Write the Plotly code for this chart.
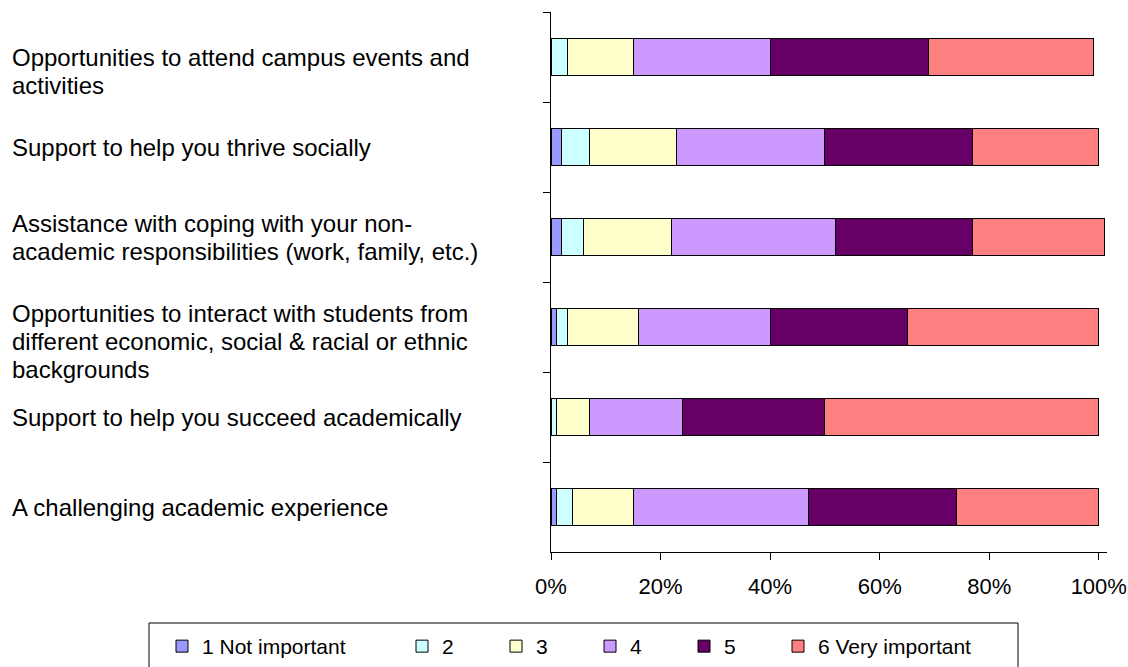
import plotly.graph_objects as go

categories = [
    "Opportunities to attend campus events and<br>activities",
    "Support to help you thrive socially",
    "Assistance with coping with your non-<br>academic responsibilities (work, family, etc.)",
    "Opportunities to interact with students from<br>different economic, social & racial or ethnic<br>backgrounds",
    "Support to help you succeed academically",
    "A challenging academic experience",
]
cat_keys = ["c1", "c2", "c3", "c4", "c5", "c6"]

series_names = ["1 Not important", "2", "3", "4", "5", "6 Very important"]
v1 = [0, 2, 2, 1, 0, 1]
v2 = [3, 5, 4, 2, 1, 3]
v3 = [12, 16, 16, 13, 6, 11]
v4 = [25, 27, 30, 24, 17, 32]
v5 = [29, 27, 25, 25, 26, 27]
v6 = [30, 23, 24, 35, 50, 26]
series_values = [v1, v2, v3, v4, v5, v6]

tick_vals = [0, 20, 40, 60, 80, 100]
tick_text = ["0%", "20%", "40%", "60%", "80%", "100%"]

colors = ["#9999FF", "#CCFFFF", "#FFFFCC", "#CC99FF", "#660066", "#FF8080"]
legend_widths = [195, 49, 49, 49, 49, 150]
label_shifts = [-14, 0, 0, -14, 0, 0]
LINE_H = 28

FONT = "Liberation Sans, Arial, sans-serif"

fig = go.Figure()
for name, vals, col, lw in zip(series_names, series_values, colors, legend_widths):
    fig.add_trace(go.Bar(
        y=cat_keys, x=vals, name=name, orientation="h",
        marker=dict(color=col, line=dict(color="#000000", width=1)),
        legendwidth=lw,
        hoverinfo="x+name",
    ))

W, H = 1128, 667
l, r, t, b = 551, 21, 12, 115
plot_w = W - l - r
plot_h = H - t - b


def px_x(px):
    return (px - l) / plot_w


def px_y(py):
    return (H - b - py) / plot_h


annotations = []
for key, lab, ys in zip(cat_keys, categories, label_shifts):
    lines = lab.split("<br>")
    n = len(lines)
    for i, line in enumerate(lines):
        annotations.append(dict(
            xref="paper", yref="y", x=px_x(10), y=key,
            text=line, showarrow=False, xanchor="left", yanchor="middle",
            align="left", yshift=ys - (i - (n - 1) / 2) * LINE_H,
            font=dict(family=FONT, size=24, color="#000000"),
        ))

fig.update_layout(
    width=W, height=H,
    margin=dict(l=l, r=r, t=t, b=b, pad=0, autoexpand=False),
    barmode="stack", bargap=0.58,
    paper_bgcolor="white", plot_bgcolor="white",
    font=dict(family=FONT, size=21, color="#000000"),
    xaxis=dict(
        range=[0, 101.5], tickvals=tick_vals, ticktext=tick_text,
        ticks="outside", ticklen=7, tickcolor="#000000",
        ticklabelstandoff=8,
        showline=True, linecolor="#000000", linewidth=1,
        showgrid=False, zeroline=False,
        tickfont=dict(family=FONT, size=22, color="#000000"),
    ),
    yaxis=dict(
        autorange="reversed", tickson="boundaries",
        ticks="outside", ticklen=7, tickcolor="#000000",
        showticklabels=False,
        showline=True, linecolor="#000000", linewidth=1,
        showgrid=False, zeroline=False,
    ),
    showlegend=True,
    legend=dict(
        orientation="h", traceorder="normal",
        x=px_x(162), xanchor="left",
        y=px_y(626), yanchor="top",
        borderwidth=0,
        font=dict(family=FONT, size=21, color="#000000"),
        bgcolor="rgba(0,0,0,0)",
    ),
    shapes=[dict(
        type="rect", xref="paper", yref="paper",
        x0=px_x(149), x1=px_x(1018), y0=px_y(623), y1=px_y(672),
        line=dict(color="#000000", width=1), fillcolor="rgba(0,0,0,0)",
        layer="below",
    )],
    annotations=annotations,
)

fig.write_html(
    "out.html",
    config={"displayModeBar": False},
    post_script="document.body.style.margin='0';document.body.style.padding='0';",
)
